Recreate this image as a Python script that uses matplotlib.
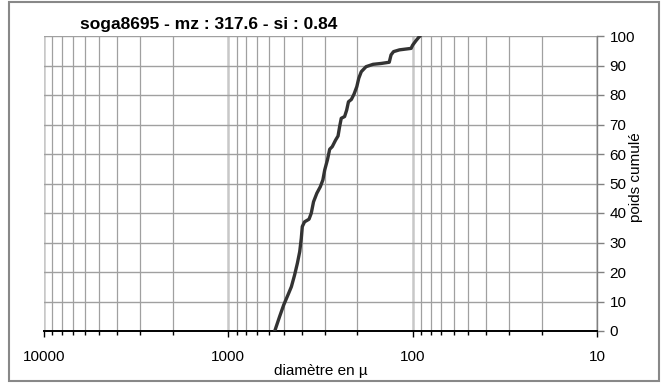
import matplotlib
matplotlib.use("Agg")
import matplotlib.pyplot as plt
from matplotlib.patches import Rectangle
from matplotlib.ticker import FixedLocator, FixedFormatter, LogLocator, NullFormatter

plt.rcParams['font.family'] = ['Liberation Sans', 'DejaVu Sans']

title = "soga8695 - mz : 317.6 - si : 0.84"
diameter = [560, 527, 501, 475, 455, 437, 422, 410, 402, 397, 386, 365, 355, 345,
            331, 317, 307, 300, 290, 282, 273, 262, 254, 249, 244, 234, 228, 223,
            215, 208, 201, 196, 190, 179, 164, 148, 134, 131, 127, 118, 102, 100,
            96, 92, 91]
cumul = [0, 4.9, 8.8, 12.2, 15, 19, 23, 26.9, 31.4, 35.4, 37, 37.9, 39.9, 43.8,
         46.7, 48.9, 51.2, 54.6, 58, 61.6, 62.5, 64.7, 66.1, 69.3, 72.1, 72.7, 74.9, 77.7,
         78.5, 80.3, 82.8, 85.7, 87.9, 89.6, 90.4, 90.7, 91.1, 93.6, 94.7, 95.3, 95.8, 96.9,
         98.4, 99.8, 100]
x_ticks = [10000, 1000, 100, 10]
x_labels = ["10000", "1000", "100", "10"]
y_ticks = list(range(0, 101, 10))

fig = plt.figure(figsize=(6.69, 3.88), dpi=100)
ax = fig.add_axes([44/669, 57/388, 553/669, 295/388])

ax.set_xscale('log')
ax.set_xlim(10000, 10)
ax.set_ylim(0, 100)

ax.xaxis.set_major_locator(FixedLocator(x_ticks))
ax.xaxis.set_major_formatter(FixedFormatter(x_labels))
ax.xaxis.set_minor_locator(LogLocator(base=10, subs=range(2, 10)))
ax.xaxis.set_minor_formatter(NullFormatter())
ax.set_yticks(y_ticks)

ax.grid(True, which='major', axis='x', color='#c8c8c8', lw=1.8)
ax.grid(True, which='minor', axis='x', color='#a0a0a0', lw=0.9)
ax.grid(True, which='major', axis='y', color='#a0a0a0', lw=1.0)
ax.set_axisbelow(True)

ax.plot(diameter, cumul, color='#333333', lw=2.4, solid_joinstyle='round',
        solid_capstyle='round', zorder=3)

for s in ['top', 'left']:
    ax.spines[s].set_visible(False)
ax.spines['bottom'].set_color('black')
ax.spines['bottom'].set_linewidth(1.4)
ax.spines['right'].set_color('#808080')
ax.spines['right'].set_linewidth(1.0)

ax.yaxis.tick_right()
ax.yaxis.set_label_position('right')
ax.tick_params(axis='y', which='both', direction='out', length=5, width=1,
               color='#808080', pad=4, labelsize=11, labelcolor='black')
ax.tick_params(axis='x', which='major', direction='out', length=4, width=1,
               color='black', pad=10, labelsize=11)
ax.tick_params(axis='x', which='minor', direction='out', length=3, width=1,
               color='black')

ax.set_xlabel("diamètre en µ", fontsize=11, labelpad=0)
ax.set_ylabel("poids cumulé", fontsize=11)
ax.yaxis.set_label_coords(1.057, 0.52)

fig.text(80/669, 1 - 25/388, title, fontsize=12.5, fontweight='bold',
         ha='left', va='center')

fig.patches.append(Rectangle((9/669, 7/388), 650/669, 379/388, transform=fig.transFigure,
                             fill=False, edgecolor='#888888', lw=1.5))

fig.savefig("out.png", dpi=100)
